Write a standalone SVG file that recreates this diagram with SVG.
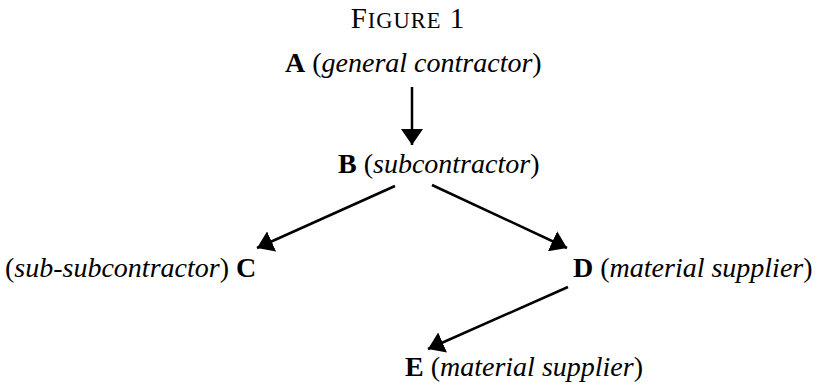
<svg xmlns="http://www.w3.org/2000/svg" width="817" height="386" viewBox="0 0 817 386">
<style>
text{font-family:"Liberation Serif","Times New Roman",serif;font-size:28px;fill:#000}
.b{font-weight:bold}
.i{font-style:italic}
.edge{stroke:#000;stroke-width:2.5;fill:none}
</style>
<defs>
<marker id="ah" markerUnits="userSpaceOnUse" markerWidth="18" markerHeight="22" refX="16" refY="11" orient="auto" viewBox="0 0 18 22">
<path d="M0,0 L16,11 L0,22 Z" fill="#000"/>
</marker>
</defs>
<rect width="817" height="386" fill="#fff"/>
<g id="title"><text x="408" y="28" text-anchor="middle" style="font-size:29px;letter-spacing:1px">F<tspan style="font-size:22.5px">IGURE</tspan> 1</text></g>
<g id="A"><text x="285" y="72"><tspan class="b">A</tspan> (<tspan class="i">general contractor</tspan>)</text></g>
<g id="B"><text x="338" y="173"><tspan class="b">B</tspan> (<tspan class="i">subcontractor</tspan>)</text></g>
<g id="C"><text x="5" y="277">(<tspan class="i">sub-subcontractor</tspan>) <tspan class="b">C</tspan></text></g>
<g id="D"><text x="573" y="277"><tspan class="b">D</tspan> (<tspan class="i">material supplier</tspan>)</text></g>
<g id="E"><text x="405" y="376"><tspan class="b">E</tspan> (<tspan class="i">material supplier</tspan>)</text></g>
<g id="connectors">
<line class="edge" x1="412" y1="87" x2="412" y2="145" marker-end="url(#ah)"/>
<line class="edge" x1="395" y1="186" x2="257" y2="248" marker-end="url(#ah)"/>
<line class="edge" x1="432" y1="185" x2="567" y2="248" marker-end="url(#ah)"/>
<line class="edge" x1="568" y1="287" x2="428" y2="349" marker-end="url(#ah)"/>
</g>
</svg>
